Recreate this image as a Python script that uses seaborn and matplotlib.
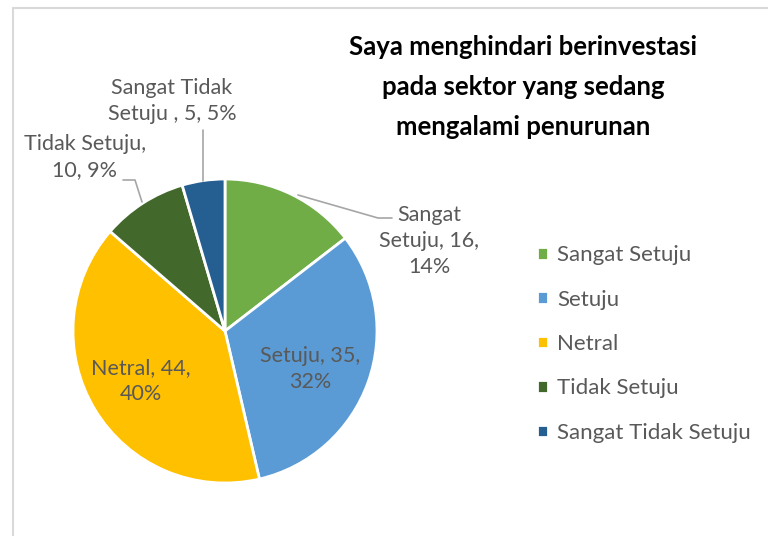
import numpy as np
import matplotlib
matplotlib.use("Agg")
from matplotlib import pyplot as plt
from matplotlib.patches import Rectangle
import seaborn as sns

categories = ['Sangat Setuju', 'Setuju', 'Netral', 'Tidak Setuju', 'Sangat Tidak Setuju']
counts = [16, 35, 44, 10, 5]
percent_labels = ['14%', '32%', '40%', '9%', '5%']
label_texts = ['Sangat\nSetuju, 16,\n14%', 'Setuju, 35,\n32%', 'Netral, 44,\n40%',
               'Tidak Setuju,\n10, 9%', 'Sangat Tidak\nSetuju , 5, 5%']
colors = ['#70AD47', '#5B9BD5', '#FFC000', '#43682B', '#255E91']
title = 'Saya menghindari berinvestasi\npada sektor yang sedang\nmengalami penurunan'

sns.set_theme(style='white')
plt.rcParams['font.family'] = ['Lato', 'DejaVu Sans']

W, H = 768, 536
fig = plt.figure(figsize=(W / 100, H / 100), dpi=100)

# chart border (extends beyond the right and bottom edges)
fig.patches.append(Rectangle((13 / W, -0.1), 1.2, (H - 8) / H + 0.1, transform=fig.transFigure,
                             fill=False, edgecolor='#D9D9D9', linewidth=1.5))

cx, cy, r = 225, 331, 152
ax = fig.add_axes([(cx - r) / W, (H - cy - r) / H, 2 * r / W, 2 * r / H])
wedges, _ = ax.pie(counts, colors=sns.color_palette(colors), startangle=90, counterclock=False,
                   wedgeprops=dict(edgecolor='white', linewidth=2))
ax.set_xlim(-1, 1)
ax.set_ylim(-1, 1)
ax.set_aspect('auto')


def px(x, y):
    # pixel coordinates -> pie data coordinates
    return ((x - cx) / r, (cy - y) / r)


label_pos = [(429, 241), (310, 369), (141, 381), (85, 157), (172, 101)]
txt_kw = dict(ha='center', va='center', fontsize=15.5, color='#595959', linespacing=1.38)
for lab, (x, y) in zip(label_texts, label_pos):
    ax.text(*px(x, y), lab, clip_on=False, **txt_kw)

# leader lines
leaders = [
    [(298, 195), (378, 218), (392, 218)],
    [(123, 180), (135, 180), (142, 202)],
    [(203, 130), (203, 181)],
]
for pts in leaders:
    xy = np.array([px(*p) for p in pts])
    ax.plot(xy[:, 0], xy[:, 1], color='#A6A6A6', linewidth=1.2, clip_on=False)

fig.text(523 / W, 1 - 87 / H, title, ha='center', va='center', fontsize=18.5,
         fontweight='bold', color='black', linespacing=1.78)

leg = fig.legend(handles=wedges, labels=categories, loc='center left',
                 bbox_to_anchor=(517 / W, 1 - 344 / H), frameon=False, fontsize=16,
                 handlelength=0.5, handleheight=0.5, handletextpad=0.4, labelspacing=1.1)
for t in leg.get_texts():
    t.set_color('#595959')

plt.savefig('out.png', dpi=100)
